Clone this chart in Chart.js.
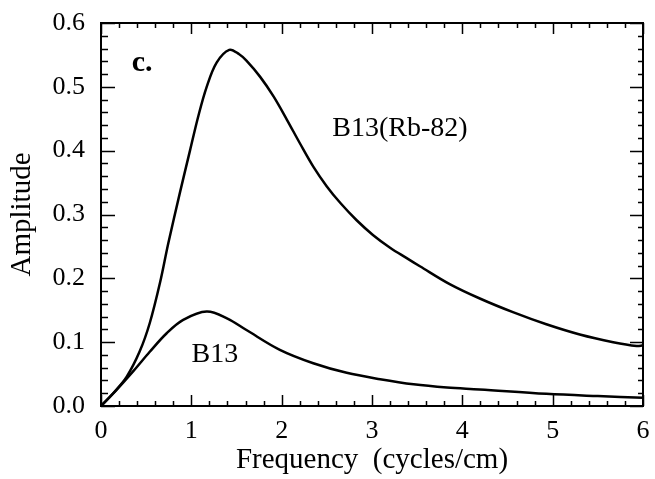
<!DOCTYPE html>
<html>
<head>
<meta charset="utf-8">
<script src="https://cdn.jsdelivr.net/npm/chart.js@4"></script>
<style>
  html, body { margin: 0; padding: 0; background: #fff; }
  #wrap { width: 655px; height: 479px; }
</style>
</head>
<body>
<div id="wrap"><canvas id="c" width="655" height="479"></canvas></div>
<script>
// Data
const rbFreq = [0, 0.135, 0.285, 0.43, 0.54, 0.653, 0.745, 0.875, 0.985, 1.077, 1.17, 1.28, 1.42, 1.53, 1.61, 1.76, 1.91, 2.06, 2.20, 2.35, 2.50, 2.65, 2.83, 3.01, 3.20, 3.38, 3.53, 3.86, 4.2, 4.56, 4.93, 5.30, 5.67, 5.93, 6.0];
const rbAmp  = [0, 0.020, 0.046, 0.086, 0.130, 0.193, 0.255, 0.335, 0.400, 0.454, 0.500, 0.538, 0.558, 0.551, 0.541, 0.516, 0.485, 0.448, 0.412, 0.375, 0.344, 0.318, 0.291, 0.268, 0.248, 0.232, 0.219, 0.191, 0.168, 0.147, 0.128, 0.112, 0.100, 0.094, 0.095];
const b13Freq = [0, 0.17, 0.36, 0.54, 0.727, 0.91, 1.17, 1.4, 1.61, 1.98, 2.35, 2.72, 3.09, 3.46, 3.83, 4.19, 4.93, 5.5, 6.0];
const b13Amp  = [0, 0.025, 0.055, 0.085, 0.114, 0.135, 0.148, 0.137, 0.119, 0.088, 0.067, 0.052, 0.042, 0.034, 0.029, 0.026, 0.019, 0.0155, 0.013];
const seriesNames = ["B13(Rb-82)", "B13"];
const xTitle = "Frequency  (cycles/cm)";
const yTitle = "Amplitude";
const panelLabel = "c.";

const toPts = (xs, ys) => xs.map((x, i) => ({ x: x, y: ys[i] }));

const SERIF = "'Liberation Serif', 'Times New Roman', serif";

// text annotations placed in data coordinates
const notes = [
  { text: seriesNames[0], x: 3.31, y: 0.435, bold: false, size: 28, align: 'center' },
  { text: seriesNames[1], x: 1.26, y: 0.080, bold: false, size: 28, align: 'center' },
  { text: panelLabel, x: 0.34, y: 0.537, bold: true, size: 30, align: 'left' }
];

const framePlugin = {
  id: 'frame',
  afterDraw(chart) {
    const ctx = chart.ctx;
    const xs = chart.scales.x, ys = chart.scales.y;
    const { left, right, top, bottom } = chart.chartArea;
    ctx.save();
    ctx.strokeStyle = '#000';
    ctx.lineWidth = 2;
    ctx.strokeRect(left, top, right - left, bottom - top);
    ctx.lineWidth = 1.5;
    ctx.beginPath();
    // x ticks every 0.2, major every 1 (inward, bottom and top)
    for (let i = 0; i <= 30; i++) {
      const v = i / 5;
      const px = Math.round(xs.getPixelForValue(v)) + 0.5;
      const len = (i % 5 === 0) ? 11 : 5;
      ctx.moveTo(px, bottom); ctx.lineTo(px, bottom - len);
      ctx.moveTo(px, top); ctx.lineTo(px, top + len);
    }
    // y ticks every 0.02, major every 0.1 (inward, left and right)
    for (let i = 0; i <= 30; i++) {
      const v = i / 50;
      const py = Math.round(ys.getPixelForValue(v)) + 0.5;
      const major = (i % 5 === 0);
      ctx.moveTo(left, py); ctx.lineTo(left + (major ? 14 : 7), py);
      ctx.moveTo(right, py); ctx.lineTo(right - (major ? 13 : 5), py);
    }
    ctx.stroke();
    // annotations
    ctx.fillStyle = '#000';
    ctx.textBaseline = 'middle';
    notes.forEach(n => {
      ctx.font = (n.bold ? 'bold ' : '') + n.size + 'px ' + SERIF;
      ctx.textAlign = n.align;
      ctx.fillText(n.text, xs.getPixelForValue(n.x), ys.getPixelForValue(n.y));
    });
    ctx.restore();
  }
};

new Chart(document.getElementById('c'), {
  type: 'line',
  data: {
    datasets: [
      { label: seriesNames[0], data: toPts(rbFreq, rbAmp), borderColor: '#000', borderWidth: 2.5, pointRadius: 0, fill: false, tension: 0.35 },
      { label: seriesNames[1], data: toPts(b13Freq, b13Amp), borderColor: '#000', borderWidth: 2.5, pointRadius: 0, fill: false, tension: 0.35 }
    ]
  },
  options: {
    responsive: false,
    animation: false,
    layout: { padding: { left: 0, right: 12, top: 23, bottom: 0 } },
    plugins: { legend: { display: false }, tooltip: { enabled: false } },
    scales: {
      x: {
        type: 'linear', min: 0, max: 6,
        grid: { display: false, drawTicks: false },
        border: { display: false },
        ticks: { stepSize: 1, padding: 10, color: '#000', maxRotation: 0, font: { family: SERIF, size: 26 } },
        title: { display: true, text: xTitle, color: '#000', padding: { top: 0, bottom: 1 }, font: { family: SERIF, size: 29 } },
        afterFit(s) { s.height = 73; s.paddingLeft = 0; s.paddingRight = 0; }
      },
      y: {
        type: 'linear', min: 0, max: 0.6,
        grid: { display: false, drawTicks: false },
        border: { display: false },
        ticks: { stepSize: 0.1, padding: 16, color: '#000', font: { family: SERIF, size: 26 }, callback: v => v.toFixed(1) },
        title: { display: true, text: yTitle, color: '#000', padding: { top: 5, bottom: 0 }, font: { family: SERIF, size: 29 } },
        afterFit(s) { s.width = 101; s.paddingTop = 0; s.paddingBottom = 0; }
      }
    }
  },
  plugins: [framePlugin]
});
</script>
</body>
</html>
